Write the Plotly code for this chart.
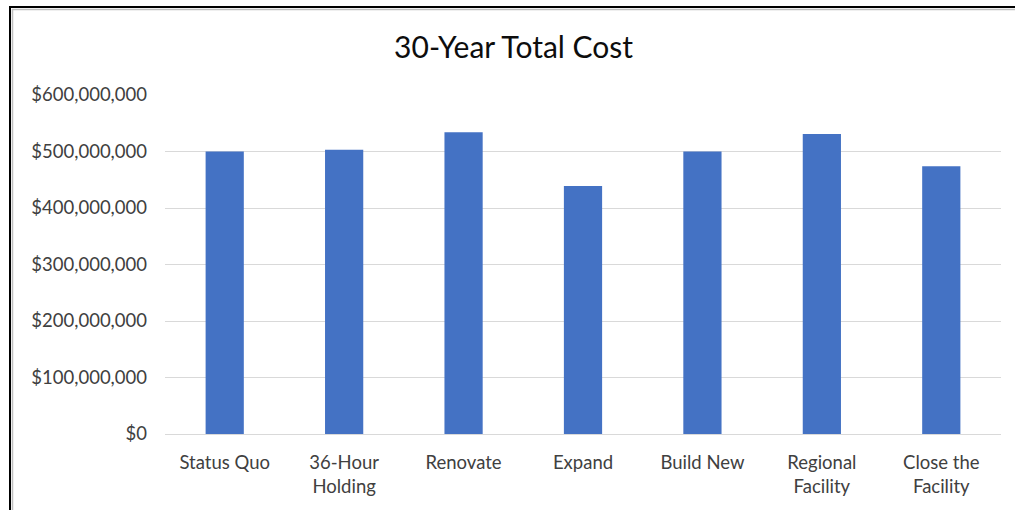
import plotly.graph_objects as go

categories = ["Status Quo", "36-Hour<br>Holding", "Renovate", "Expand",
              "Build New", "Regional<br>Facility", "Close the<br>Facility"]
total_cost = [500_000_000, 503_000_000, 534_000_000, 439_000_000,
              500_000_000, 531_000_000, 474_000_000]
y_ticks = [0, 100_000_000, 200_000_000, 300_000_000, 400_000_000, 500_000_000, 600_000_000]

W, H = 1015, 510
ML, MR, MT, MB = 165, 14, 95, 76
pw = W - ML - MR
ph = H - MT - MB

def px_x(x):
    return (x - ML) / pw

def px_y(y):
    return (H - MB - y) / ph

font_family = "Lato, 'Open Sans', Arial, sans-serif"

fig = go.Figure(go.Bar(
    x=categories,
    y=total_cost,
    marker=dict(color="#4472C4", line=dict(width=0)),
    hoverinfo="x+y",
))

fig.update_layout(
    width=W, height=H,
    margin=dict(l=ML, r=MR, t=MT, b=MB),
    paper_bgcolor="white",
    plot_bgcolor="white",
    bargap=0.68,
    showlegend=False,
    title=dict(
        text="30-Year Total Cost",
        x=0.506, xanchor="center",
        y=1 - 47 / H, yanchor="middle",
        font=dict(family=font_family, size=30, color="#0d0d0d"),
    ),
    font=dict(family=font_family, size=18, color="#404040"),
    xaxis=dict(
        showgrid=False,
        showline=False,
        ticks="",
        ticklabelstandoff=15,
        tickfont=dict(size=18.5, color="#404040"),
        zeroline=False,
    ),
    yaxis=dict(
        range=[0, 600_000_000],
        tickvals=y_ticks,
        tickformat="$,.0f",
        showgrid=True,
        gridcolor="#D9D9D9",
        gridwidth=1,
        zeroline=True,
        zerolinecolor="#D9D9D9",
        zerolinewidth=1,
        showline=False,
        ticks="",
        ticklabelstandoff=17,
        tickfont=dict(size=18.5, color="#404040"),
    ),
    shapes=[
        dict(type="rect", xref="paper", yref="paper",
             x0=px_x(10), x1=px_x(1030), y0=px_y(7), y1=px_y(530),
             line=dict(color="black", width=2), fillcolor="rgba(0,0,0,0)", layer="above"),
        dict(type="rect", xref="paper", yref="paper",
             x0=px_x(12.5), x1=px_x(1030), y0=px_y(9.5), y1=px_y(530),
             line=dict(color="#BFBFBF", width=1.5), fillcolor="rgba(0,0,0,0)", layer="above"),
    ],
)

fig.write_html("out.html", config={"displayModeBar": False},
               post_script="document.body.style.margin='0';document.body.style.overflow='hidden';")
